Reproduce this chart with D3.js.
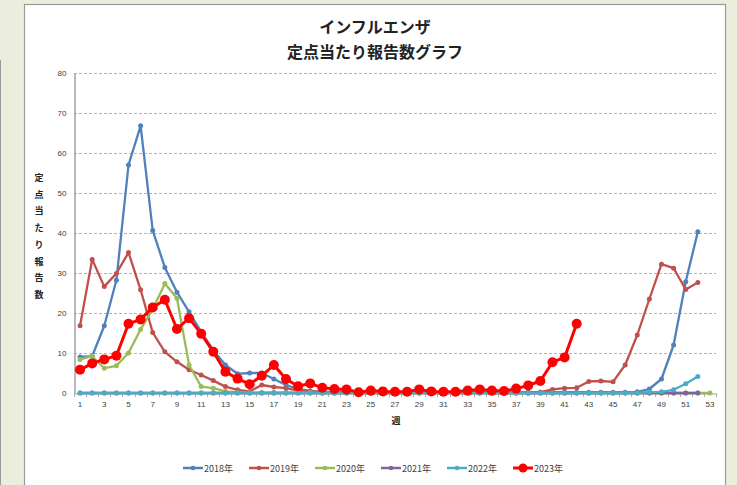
<!DOCTYPE html>
<html><head><meta charset="utf-8">
<script src="https://cdn.jsdelivr.net/npm/d3@7"></script>
<style>
html,body{margin:0;padding:0;background:#ebeedd;}
svg{display:block;}
</style></head>
<body><svg id="c" width="737" height="485"></svg>
<script>
const weeks = d3.range(1, 54);
const xTickLabels = d3.range(1, 54, 2);
const yTicks = [0, 10, 20, 30, 40, 50, 60, 70, 80];
const seriesNames = ["2018年", "2019年", "2020年", "2021年", "2022年", "2023年"];
const seriesColors = ["#4f81bd", "#c0504d", "#9bbb59", "#8064a2", "#4bacc6", "#ff0000"];

const v2018 = [9, 9.2, 16.8, 28.2, 57, 66.8, 40.6, 31.4, 25.2, 20.3, 15.3, 10.7, 7, 4.8, 5, 5, 3.5, 2, 1, 0.5,
  0.3, 0.3, 0.2, 0.2, 0.2, 0.2, 0.2, 0.2, 0.2, 0.2, 0.2, 0.2, 0.2, 0.2, 0.2, 0.2, 0.2, 0.2, 0.2, 0.2,
  0.2, 0.2, 0.2, 0.2, 0.2, 0.2, 0.3, 1, 3.5, 12, 27.8, 40.3];
const v2019 = [16.8, 33.4, 26.6, 29.9, 35.1, 25.8, 15.1, 10.3, 7.8, 5.8, 4.5, 3.1, 1.6, 0.8, 0.4, 2, 1.5, 1.2, 0.6, 0.4,
  0.2, 0.2, 0.2, 0.2, 0.2, 0.2, 0.2, 0.2, 0.2, 0.2, 0.2, 0.2, 0.2, 0.2, 0.2, 0.2, 0.2, 0.2, 0.2, 0.9,
  1.2, 1.3, 2.9, 3, 2.8, 7, 14.5, 23.5, 32.2, 31.2, 25.9, 27.6];
const v2020 = [8.4, 9.2, 6.2, 6.8, 10, 15.9, 20.9, 27.4, 23.7, 7, 1.6, 1.2, 0.4, 0.2, 0.1, 0.1, 0.1, 0.1, 0.1, 0.1,
  0, 0, 0, 0, 0, 0, 0, 0, 0, 0, 0, 0, 0, 0, 0, 0, 0, 0, 0, 0,
  0, 0, 0, 0, 0, 0, 0, 0, 0, 0, 0, 0, 0];
const v2021 = [0, 0, 0, 0, 0, 0, 0, 0, 0, 0, 0, 0, 0, 0, 0, 0, 0, 0, 0, 0,
  0, 0, 0, 0, 0, 0, 0, 0, 0, 0, 0, 0, 0, 0, 0, 0, 0, 0, 0, 0,
  0, 0, 0, 0, 0, 0, 0, 0, 0, 0, 0, 0];
const v2022 = [0, 0, 0, 0, 0, 0, 0, 0, 0, 0, 0, 0, 0, 0, 0, 0, 0, 0, 0, 0,
  0, 0, 0, 0, 0, 0, 0, 0, 0, 0, 0, 0, 0, 0, 0, 0, 0, 0, 0, 0,
  0, 0, 0, 0, 0, 0, 0, 0.2, 0.3, 0.8, 2.3, 4.1];
const v2023 = [5.8, 7.4, 8.4, 9.3, 17.3, 18.4, 21.4, 23.3, 16, 18.7, 14.8, 10.3, 5.3, 3.6, 2.2, 4.3, 7, 3.5, 1.7, 2.4,
  1.3, 1, 0.9, 0.2, 0.6, 0.4, 0.3, 0.3, 0.9, 0.4, 0.3, 0.3, 0.6, 0.9, 0.6, 0.5, 1.1, 1.9, 3, 7.7,
  8.9, 17.3];
const seriesValues = [v2018, v2019, v2020, v2021, v2022, v2023];

const titleLines = ["インフルエンザ", "定点当たり報告数グラフ"];
const yAxisTitle = "定点当たり報告数";
const xAxisTitle = "週";

const svg = d3.select("#c");
svg.append("line").attr("x1", 0.5).attr("x2", 0.5).attr("y1", 60).attr("y2", 485).attr("stroke", "#9a9a9a").attr("stroke-width", 1);
svg.append("rect").attr("x", 24.5).attr("y", 4.5).attr("width", 701).attr("height", 490)
  .attr("fill", "#ffffff").attr("stroke", "#9a9a9a").attr("stroke-width", 1.2);

const x = d3.scaleBand().domain(weeks).range([74, 716]);
const y = d3.scaleLinear().domain([0, 80]).range([393, 73]);
const cx = w => x(w) + x.bandwidth() / 2;

const t = svg.append("g").attr("font-family", "'Noto Sans CJK JP', sans-serif").attr("font-weight", "bold")
  .attr("font-size", 16).attr("fill", "#222").attr("text-anchor", "middle");
t.append("text").attr("x", 375).attr("y", 33).text(titleLines[0]);
t.append("text").attr("x", 375).attr("y", 58).text(titleLines[1]);

svg.append("g").selectAll("line").data(yTicks.filter(d => d > 0)).join("line")
  .attr("x1", 74).attr("x2", 716).attr("y1", d => Math.round(y(d)) + 0.5).attr("y2", d => Math.round(y(d)) + 0.5)
  .attr("stroke", "#b4b4b4").attr("stroke-width", 1).attr("stroke-dasharray", "3,2");

const yAxis = svg.append("g").attr("transform", "translate(74.5,0)")
  .call(d3.axisLeft(y).tickValues(yTicks).tickSize(0).tickPadding(8));
yAxis.select(".domain").attr("stroke", "#a0a0a0").attr("stroke-width", 1.5);
yAxis.selectAll("text").attr("font-family", "'Liberation Sans', sans-serif").attr("font-size", 8).attr("fill", "#404040");

const xAxis = svg.append("g").attr("transform", "translate(0,393.5)")
  .call(d3.axisBottom(x).tickValues(xTickLabels).tickSize(0).tickPadding(8));
xAxis.select(".domain").attr("stroke", "#a0a0a0").attr("stroke-width", 1);
xAxis.selectAll("text").attr("font-family", "'Liberation Sans', sans-serif").attr("font-size", 8).attr("fill", "#404040");
svg.append("g").selectAll("line").data(weeks.concat([54])).join("line")
  .attr("x1", d => Math.round(x(d) === undefined ? 716 : x(d)) + 0.5)
  .attr("x2", d => Math.round(x(d) === undefined ? 716 : x(d)) + 0.5)
  .attr("y1", 393).attr("y2", 397).attr("stroke", "#b0b0b0").attr("stroke-width", 1);

const ya = svg.append("g").attr("font-family", "'Noto Sans CJK JP', sans-serif").attr("font-weight", "bold")
  .attr("font-size", 9).attr("fill", "#222").attr("text-anchor", "middle");
Array.from(yAxisTitle).forEach((ch, i) => {
  ya.append("text").attr("x", 39).attr("y", 181 + i * 16.7).text(ch);
});
svg.append("text").attr("x", 396).attr("y", 424).attr("font-family", "'Noto Sans CJK JP', sans-serif")
  .attr("font-weight", "bold").attr("font-size", 9).attr("fill", "#222").attr("text-anchor", "middle").text(xAxisTitle);

const line = d3.line().x((d, i) => cx(i + 1)).y(d => y(d));
seriesValues.forEach((vals, k) => {
  const big = k === 5;
  const g = svg.append("g");
  g.append("path").datum(vals).attr("d", line).attr("fill", "none")
    .attr("stroke", seriesColors[k]).attr("stroke-width", big ? 3 : 2.3).attr("stroke-linejoin", "round");
  g.selectAll("circle").data(vals).join("circle")
    .attr("cx", (d, i) => cx(i + 1)).attr("cy", d => y(d)).attr("r", big ? 5 : 2.5)
    .attr("fill", seriesColors[k]);
});

const lg = svg.append("g");
seriesNames.forEach((name, k) => {
  const x0 = 183 + k * 66;
  const big = k === 5;
  lg.append("line").attr("x1", x0).attr("x2", x0 + 20).attr("y1", 468).attr("y2", 468)
    .attr("stroke", seriesColors[k]).attr("stroke-width", big ? 3 : 2.5);
  lg.append("circle").attr("cx", x0 + 10).attr("cy", 468).attr("r", big ? 4.5 : 2.3).attr("fill", seriesColors[k]);
  lg.append("text").attr("x", x0 + 21).attr("y", 471.5).attr("font-family", "'Noto Sans CJK JP', sans-serif")
    .attr("font-size", 9).attr("fill", "#404040").text(name);
});
</script></body></html>
